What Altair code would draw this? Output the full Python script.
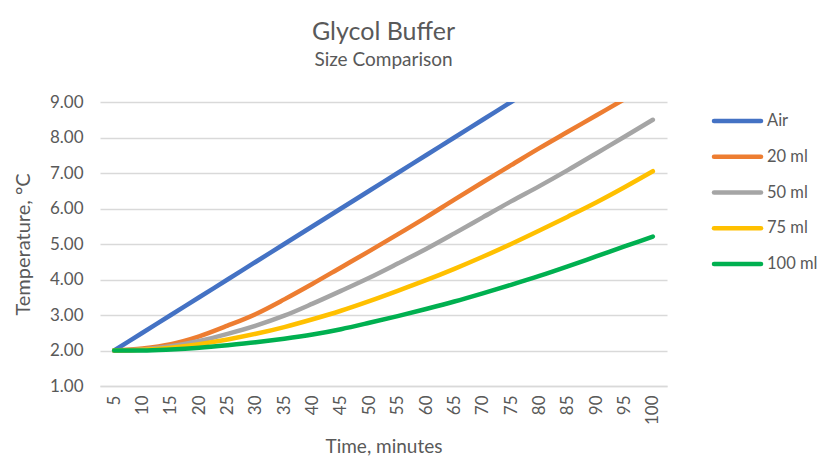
import altair as alt
import pandas as pd

# ---- data ----
times = [5, 10, 15, 20, 25, 30, 35, 40, 45, 50, 55, 60, 65, 70, 75, 80, 85, 90, 95, 100]
series_names = ["Air", "20 ml", "50 ml", "75 ml", "100 ml"]
air = [2.0, 2.5, 3.0, 3.5, 4.0, 4.5, 5.0, 5.5, 6.0, 6.5, 7.0, 7.5, 8.0, 8.5, 9.0, 9.5, 10.0, 10.5, 11.0, 11.5]
ml20 = [2.0, 2.06, 2.18, 2.4, 2.7, 3.03, 3.44, 3.88, 4.34, 4.8, 5.27, 5.75, 6.25, 6.74, 7.22, 7.7, 8.16, 8.62, 9.08, 9.55]
ml50 = [2.0, 2.03, 2.12, 2.27, 2.47, 2.7, 2.98, 3.32, 3.68, 4.05, 4.45, 4.86, 5.3, 5.75, 6.2, 6.63, 7.08, 7.55, 8.02, 8.5]
ml75 = [2.0, 2.02, 2.08, 2.18, 2.31, 2.47, 2.66, 2.88, 3.12, 3.39, 3.68, 3.98, 4.3, 4.64, 5.0, 5.38, 5.77, 6.17, 6.6, 7.05]
ml100 = [2.0, 2.0, 2.03, 2.08, 2.15, 2.23, 2.33, 2.45, 2.6, 2.78, 2.97, 3.17, 3.38, 3.61, 3.85, 4.1, 4.37, 4.65, 4.93, 5.21]
y_ticks = [1, 2, 3, 4, 5, 6, 7, 8, 9]
colors = ["#4472C4", "#ED7D31", "#A5A5A5", "#FFC000", "#00B050"]

rows = []
for name, vals in zip(series_names, [air, ml20, ml50, ml75, ml100]):
    for t, v in zip(times, vals):
        rows.append({"time": t, "temp": v, "series": name})
df = pd.DataFrame(rows)
leg_df = pd.DataFrame({"series": series_names})

FONT = "Lato"
TXT = "#595959"
color_scale = alt.Scale(domain=series_names, range=colors)

lines = alt.Chart(df).mark_line(strokeWidth=4.5, clip=True, strokeCap="round", strokeJoin="round",
                                interpolate="monotone").encode(
    x=alt.X("time:O", sort=times, scale=alt.Scale(type="point", padding=0.5),
            axis=alt.Axis(title="Time, minutes", labelAngle=270, labelPadding=9, titlePadding=13,
                          labelFontSize=17, titleFontSize=19, ticks=False, grid=False,
                          domain=True, domainColor="#d9d9d9", domainWidth=1.5)),
    y=alt.Y("temp:Q", scale=alt.Scale(domain=[1, 9], nice=False, zero=False),
            axis=alt.Axis(title="Temperature, °C", values=y_ticks, format=".2f", labelPadding=17,
                          titlePadding=16, labelFontSize=17, titleFontSize=20, ticks=False,
                          domain=False, grid=True, gridColor="#d9d9d9", gridWidth=1.5)),
    color=alt.Color("series:N", scale=color_scale, legend=None),
)

leg_y = alt.Y("series:N", sort=series_names, scale=alt.Scale(type="point", range=[19, 162], padding=0), axis=None)
leg_rule = alt.Chart(leg_df).mark_rule(strokeWidth=4.5, strokeCap="round").encode(
    x=alt.value(614), x2=alt.value(661), y=leg_y,
    color=alt.Color("series:N", scale=color_scale, legend=None),
)
leg_text = alt.Chart(leg_df).mark_text(align="left", baseline="middle", fontSize=16.5, font=FONT, color=TXT).encode(
    x=alt.value(667), y=leg_y, text="series:N",
)

chart = alt.layer(lines, leg_rule, leg_text).resolve_scale(y="independent").properties(
    width=567, height=284,
    autosize=alt.AutoSizeParams(type="none"),
    padding={"left": 92, "top": 94, "right": 152, "bottom": 76},
    title=alt.Title("Glycol Buffer", subtitle="Size Comparison", anchor="middle", frame="group",
                    font=FONT, subtitleFont=FONT, fontSize=25, subtitleFontSize=19, fontWeight="normal",
                    color=TXT, subtitleColor=TXT, offset=23, subtitlePadding=6),
).configure_view(stroke=None).configure_axis(
    labelFont=FONT, titleFont=FONT, labelColor=TXT, titleColor=TXT, titleFontWeight="normal"
)

chart.save("out.html", embed_options={"renderer": "svg", "actions": False})
